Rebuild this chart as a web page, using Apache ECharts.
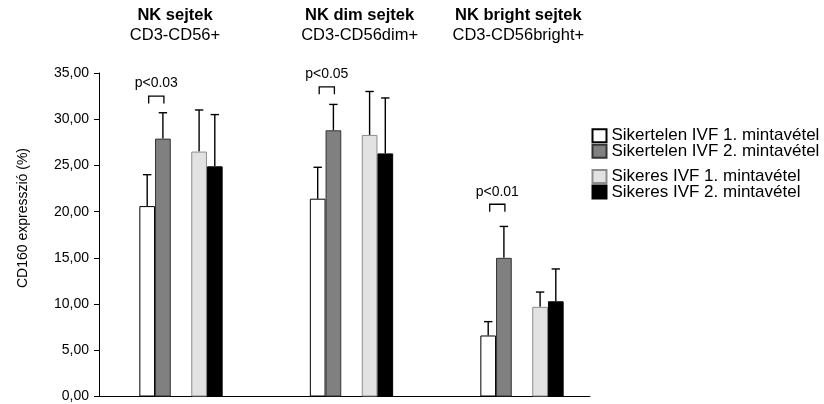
<!DOCTYPE html>
<html>
<head>
<meta charset="utf-8">
<script src="https://cdn.jsdelivr.net/npm/echarts@6/dist/echarts.min.js"></script>
<style>html,body{margin:0;padding:0;background:#fff}#c{width:824px;height:404px}</style>
</head>
<body>
<div id="c"></div>
<script>
// ---- data ----
var categories = ['NK sejtek', 'NK dim sejtek', 'NK bright sejtek'];
var subtitles = ['CD3-CD56+', 'CD3-CD56dim+', 'CD3-CD56bright+'];
var seriesNames = ['Sikertelen IVF 1. mintavétel', 'Sikertelen IVF 2. mintavétel', 'Sikeres IVF 1. mintavétel', 'Sikeres IVF 2. mintavétel'];
var meanSikertelen1 = [20.6, 21.4, 6.6];
var sdSikertelen1   = [3.4, 3.4, 1.5];
var meanSikertelen2 = [27.9, 28.8, 15.0];
var sdSikertelen2   = [2.8, 2.8, 3.4];
var meanSikeres1    = [26.5, 28.3, 9.7];
var sdSikeres1      = [4.5, 4.7, 1.6];
var meanSikeres2    = [24.9, 26.3, 10.3];
var sdSikeres2      = [5.6, 6.0, 3.5];
var pLabels = ['p<0.03', 'p<0.05', 'p<0.01'];
var pBracketValue = [32.5, 33.5, 20.8];
var yTicks = [0, 5, 10, 15, 20, 25, 30, 35];

// ---- layout / style ----
var FONT = '"Liberation Sans", Arial, sans-serif';
var BW = 15.7, MID = 20.5;
var offsets = [-(MID / 2 + BW * 1.5), -(MID / 2 + BW / 2), (MID / 2 + BW / 2), (MID / 2 + BW * 1.5)];
var styles = [
  {color: '#ffffff', borderColor: '#000000', borderWidth: 1},
  {color: '#808080', borderColor: '#333333', borderWidth: 1},
  {color: '#e2e2e2', borderColor: '#8c8c8c', borderWidth: 1},
  {color: '#000000', borderColor: '#000000', borderWidth: 1}
];
var means = [meanSikertelen1, meanSikertelen2, meanSikeres1, meanSikeres2];
var sds = [sdSikertelen1, sdSikertelen2, sdSikeres1, sdSikeres2];

var chart = echarts.init(document.getElementById('c'), null, {renderer: 'canvas'});

var series = [];
[0, 1].forEach(function (i) {
  series.push({
    name: seriesNames[i], type: 'bar', xAxisIndex: 1, yAxisIndex: 1,
    barWidth: BW, barGap: '0%', itemStyle: styles[i], data: means[i], z: 3
  });
});
series.push({name: '_gap', type: 'bar', xAxisIndex: 1, yAxisIndex: 1, barWidth: MID, barGap: '0%', data: ['-', '-', '-'], silent: true});
[2, 3].forEach(function (i) {
  series.push({
    name: seriesNames[i], type: 'bar', xAxisIndex: 1, yAxisIndex: 1,
    barWidth: BW, barGap: '0%', itemStyle: styles[i], data: means[i], z: 3
  });
});
// error bars
[0, 1, 2, 3].forEach(function (i) {
  var d = means[i].map(function (m, k) { return [k, m, sds[i][k]]; });
  series.push({
    type: 'custom', xAxisIndex: 1, yAxisIndex: 1, z: 2, silent: true,
    data: d,
    renderItem: function (params, api) {
      var base = api.coord([api.value(0), api.value(1)]);
      var top = api.coord([api.value(0), api.value(1) + api.value(2)]);
      var x = base[0] + offsets[i];
      var st = {stroke: '#000', lineWidth: 1.4};
      return {type: 'group', children: [
        {type: 'line', shape: {x1: x, y1: base[1], x2: x, y2: top[1]}, style: st},
        {type: 'line', shape: {x1: x - 4.2, y1: top[1], x2: x + 4.2, y2: top[1]}, style: st}
      ]};
    }
  });
});
// significance brackets
series.push({
  type: 'custom', xAxisIndex: 1, yAxisIndex: 1, z: 4, silent: true,
  data: pBracketValue.map(function (v, k) { return [k, v]; }),
  renderItem: function (params, api) {
    var p = api.coord([api.value(0), api.value(1)]);
    var x1 = p[0] + offsets[0] + 1.5, x2 = p[0] + offsets[1] + 1, y = p[1];
    var st = {stroke: '#000', lineWidth: 1.3, fill: null};
    return {type: 'group', children: [
      {type: 'polyline', shape: {points: [[x1, y + 7.5], [x1, y], [x2, y], [x2, y + 7.5]]}, style: st},
      {type: 'text', x: (x1 + x2) / 2, y: y - 12.5, style: {text: pLabels[params.dataIndex], font: '14px ' + FONT, fill: '#000', align: 'center', verticalAlign: 'middle'}}
    ]};
  }
});

var titleX = [175, 359.6, 518.3];
var graphics = [];
categories.forEach(function (c, k) {
  graphics.push({type: 'text', x: titleX[k], y: 15.2, style: {text: c, font: 'bold 16.5px ' + FONT, fill: '#000', align: 'center', verticalAlign: 'middle'}});
  graphics.push({type: 'text', x: titleX[k], y: 35.2, style: {text: subtitles[k], font: '16.5px ' + FONT, fill: '#000', align: 'center', verticalAlign: 'middle'}});
});
graphics.push({type: 'text', x: 23, y: 218, rotation: Math.PI / 2, style: {text: 'CD160 expresszió (%)', font: '14px ' + FONT, fill: '#000', align: 'center', verticalAlign: 'middle'}});

var legendCommon = {
  orient: 'vertical', left: 591.5, padding: 0, icon: 'rect', itemWidth: 14, itemHeight: 13, itemGap: -1.5,
  textStyle: {fontFamily: FONT, fontSize: 17, color: '#000'}, selectedMode: false
};

chart.setOption({
  animation: false,
  backgroundColor: '#fff',
  graphic: graphics,
  legend: [
    Object.assign({}, legendCommon, {top: 127.3, data: [seriesNames[0], seriesNames[1]]}),
    Object.assign({}, legendCommon, {top: 168, data: [seriesNames[2], seriesNames[3]]})
  ],
  grid: [
    {left: 99, right: 234, top: 73, bottom: 7.5},
    {left: 95.75, width: 511.5, top: 73, bottom: 7.5}
  ],
  xAxis: [
    {gridIndex: 0, type: 'value', min: 0, max: 1, axisLine: {show: true, onZero: false, lineStyle: {color: '#000', width: 1}}, axisTick: {show: false}, axisLabel: {show: false}, splitLine: {show: false}},
    {gridIndex: 1, type: 'category', data: categories, show: false}
  ],
  yAxis: [
    {gridIndex: 0, type: 'value', min: 0, max: 35, interval: 5,
      axisLine: {show: true, lineStyle: {color: '#000', width: 1}},
      axisTick: {show: true, length: 5, lineStyle: {color: '#000'}},
      axisLabel: {margin: 10, color: '#000', fontFamily: FONT, fontSize: 14, formatter: function (v) { return yTicks.indexOf(v) >= 0 ? v.toFixed(2).replace('.', ',') : ''; }},
      splitLine: {show: false}},
    {gridIndex: 1, type: 'value', min: 0, max: 35, show: false}
  ],
  series: series
});
</script>
</body>
</html>
